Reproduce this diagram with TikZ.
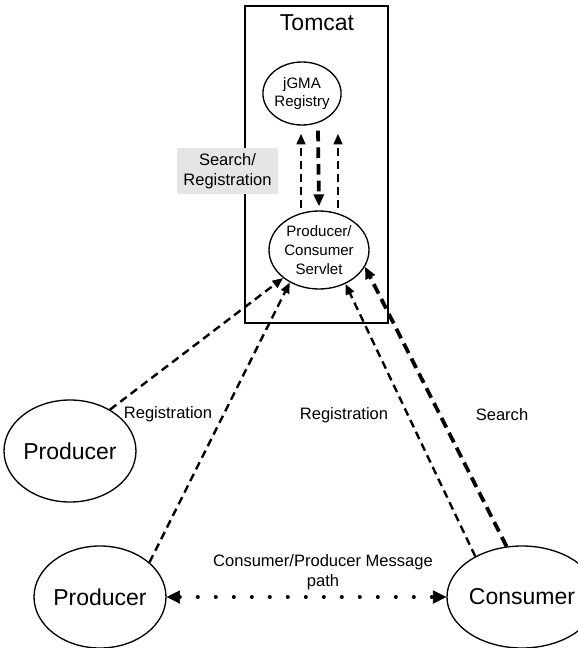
\documentclass[tikz,border=0pt]{standalone}
\usepackage{fontspec}
\setmainfont{Liberation Sans}
\usetikzlibrary{arrows.meta,calc,shapes.geometric}
\tikzset{
unit/.style={ellipse,draw,line width=1pt,inner sep=0pt,align=center},
big/.style={font=\fontsize{17.25}{20}\selectfont},
small/.style={font=\fontsize{11.3}{14}\selectfont},
lbl/.style={font=\fontsize{12.4}{15}\selectfont},
msg/.style={line width=1.8pt,dash pattern=on 6pt off 3.75pt,-{Triangle[length=8pt,width=6.5pt]}},
msgheavy/.style={line width=2.8pt,dash pattern=on 8pt off 4.5pt,-{Triangle[length=9pt,width=7.5pt]}},
flow/.style={line width=3pt,line cap=round,dash pattern=on 0pt off 13.5pt,
  {Triangle[length=10pt,width=10pt,line width=0.5pt]}-{Triangle[length=10pt,width=10pt,line width=0.5pt]}}
}
\begin{document}
\begin{tikzpicture}[x=0.75pt,y=-0.75pt]
\useasboundingbox (0,0) rectangle (577,648);
\node[draw,line width=1pt,minimum width=107.25pt,minimum height=237.75pt] (tomcat) at (316.5,164.5) {};
\node[big] (tomcatlbl) at (317,23) {Tomcat};
\node[unit,small,minimum width=57.75pt,minimum height=47.25pt] (reg) at (302,93.5) {jGMA\\Registry};
\node[unit,small,minimum width=75pt,minimum height=58.5pt] (servlet) at (319,250) {Producer/\\Consumer\\Servlet};
\node[unit,big,minimum width=85.5pt,minimum height=76.5pt] (prodA) at (70,451) {Producer};
\node[unit,big,minimum width=85.5pt,minimum height=76.5pt] (prodB) at (100,597) {Producer};
\node[unit,big,minimum width=85.5pt,minimum height=76.5pt] (cons) at (522,597) {Consumer};
\node[lbl,fill=black!10,align=center,minimum width=75.75pt,minimum height=34.5pt,inner sep=0pt] (srchreg) at (227.5,171) {Search/\\Registration};
\draw[msg] ($(servlet.north)+(-18,-2)$) -- ($(reg.south)+(-1,8)$);
\draw[msg] ($(servlet.north)+(19,-2)$) -- ($(reg.south)+(36,8)$);
\draw[msgheavy] ($(reg.south)+(16,5)$) -- ($(servlet.north)+(0,-4)$);
\draw[msg] (prodA.46) -- (servlet.218);
\draw[msg] (prodB.35) -- (servlet.228);
\draw[msg] (cons.139) -- (servlet.308);
\draw[msgheavy] (cons.107) -- (servlet.340);
\draw[flow] (prodB.east) -- (cons.west);
\node[lbl] (regA) at (168,414) {Registration};
\node[lbl] (regB) at (344,415) {Registration};
\node[lbl] (srch) at (502,415) {Search};
\node[lbl,align=center] (msgpath) at (323,572) {Consumer/Producer Message\\path};
\end{tikzpicture}
\end{document}
